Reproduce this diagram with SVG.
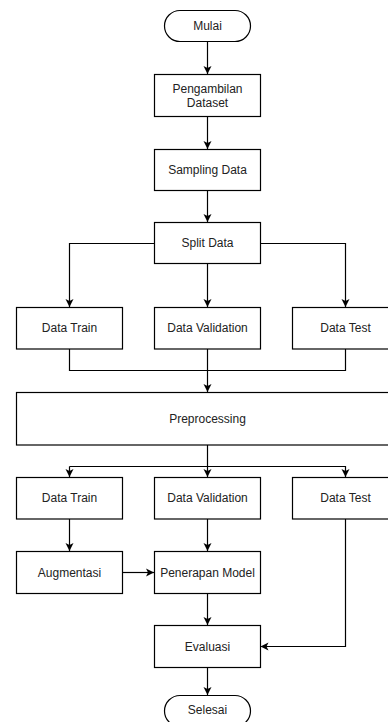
<svg xmlns="http://www.w3.org/2000/svg" width="388" height="722" viewBox="0 0 388 722">
  <defs>
    <marker id="arrow" markerUnits="userSpaceOnUse" markerWidth="9" markerHeight="9" refX="8" refY="4.5" orient="auto">
      <path d="M0,0.5 L8,4.5 L0,8.5 L2,4.5 Z" fill="#000"/>
    </marker>
    <style>
      .box { fill: #fff; stroke: #000; stroke-width: 1.2; }
      .lbl { font-family: "Liberation Sans", Arial, sans-serif; font-size: 12px; fill: #222; text-anchor: middle; dominant-baseline: central; }
      .edge { fill: none; stroke: #000; stroke-width: 1.2; }
      .arr { marker-end: url(#arrow); }
    </style>
  </defs>
  <rect width="388" height="722" fill="#fff"/>

  <!-- connectors -->
  <g id="connectors">
    <path class="edge arr" d="M207.5,42 V74"/>
    <path class="edge arr" d="M207.5,117 V149"/>
    <path class="edge arr" d="M207.5,191 V222"/>
    <path class="edge arr" d="M154,243.5 H69.5 V307"/>
    <path class="edge arr" d="M207.5,264 V307"/>
    <path class="edge arr" d="M260,243.5 H345.5 V307"/>
    <path class="edge" d="M69.5,349 V370.5 H345.5 V349"/>
    <path class="edge arr" d="M207.5,349 V392"/>
    <path class="edge" d="M207.5,445 V466.5"/>
    <path class="edge arr" d="M69.5,466.5 H345.5 V477"/>
    <path class="edge arr" d="M69.5,466.5 V477"/>
    <path class="edge arr" d="M207.5,466.5 V477"/>
    <path class="edge arr" d="M69.5,519 V551"/>
    <path class="edge arr" d="M207.5,519 V551"/>
    <path class="edge arr" d="M123,572.5 H154"/>
    <path class="edge arr" d="M207.5,593 V625"/>
    <path class="edge arr" d="M345.5,519 V646.5 H260.5"/>
    <path class="edge arr" d="M207.5,668 V695"/>
  </g>

  <g id="mulai">
    <rect class="box" x="164.5" y="10.5" width="86" height="31" rx="15.5"/>
    <text class="lbl" x="207.5" y="26">Mulai</text>
  </g>
  <g id="pengambilan-dataset">
    <rect class="box" x="154.5" y="74.5" width="106" height="42"/>
    <text class="lbl" x="207.5" y="89">Pengambilan</text>
    <text class="lbl" x="207.5" y="103">Dataset</text>
  </g>
  <g id="sampling-data">
    <rect class="box" x="154.5" y="149.5" width="106" height="41"/>
    <text class="lbl" x="207.5" y="170">Sampling Data</text>
  </g>
  <g id="split-data">
    <rect class="box" x="154.5" y="222.5" width="106" height="41"/>
    <text class="lbl" x="207.5" y="243">Split Data</text>
  </g>

  <g id="data-train-1">
    <rect class="box" x="16.5" y="307.5" width="106" height="41.5"/>
    <text class="lbl" x="69.5" y="328">Data Train</text>
  </g>
  <g id="data-validation-1">
    <rect class="box" x="154.5" y="307.5" width="106" height="41.5"/>
    <text class="lbl" x="207.5" y="328">Data Validation</text>
  </g>
  <g id="data-test-1">
    <rect class="box" x="292.5" y="307.5" width="106" height="41.5"/>
    <text class="lbl" x="345.5" y="328">Data Test</text>
  </g>

  <g id="preprocessing">
    <rect class="box" x="16.5" y="392.5" width="382" height="52.5"/>
    <text class="lbl" x="207.5" y="418.5">Preprocessing</text>
  </g>

  <g id="data-train-2">
    <rect class="box" x="16.5" y="477.5" width="106" height="41.5"/>
    <text class="lbl" x="69.5" y="498">Data Train</text>
  </g>
  <g id="data-validation-2">
    <rect class="box" x="154.5" y="477.5" width="106" height="41.5"/>
    <text class="lbl" x="207.5" y="498">Data Validation</text>
  </g>
  <g id="data-test-2">
    <rect class="box" x="292.5" y="477.5" width="106" height="41.5"/>
    <text class="lbl" x="345.5" y="498">Data Test</text>
  </g>

  <g id="augmentasi">
    <rect class="box" x="16.5" y="551.5" width="106" height="42"/>
    <text class="lbl" x="69.5" y="572.5">Augmentasi</text>
  </g>
  <g id="penerapan-model">
    <rect class="box" x="154.5" y="551.5" width="106" height="42"/>
    <text class="lbl" x="207.5" y="572.5">Penerapan Model</text>
  </g>
  <g id="evaluasi">
    <rect class="box" x="154.5" y="625.5" width="106" height="42"/>
    <text class="lbl" x="207.5" y="646.5">Evaluasi</text>
  </g>
  <g id="selesai">
    <rect class="box" x="164.5" y="695.5" width="86" height="31" rx="15.5"/>
    <text class="lbl" x="207.5" y="710">Selesai</text>
  </g>
</svg>
